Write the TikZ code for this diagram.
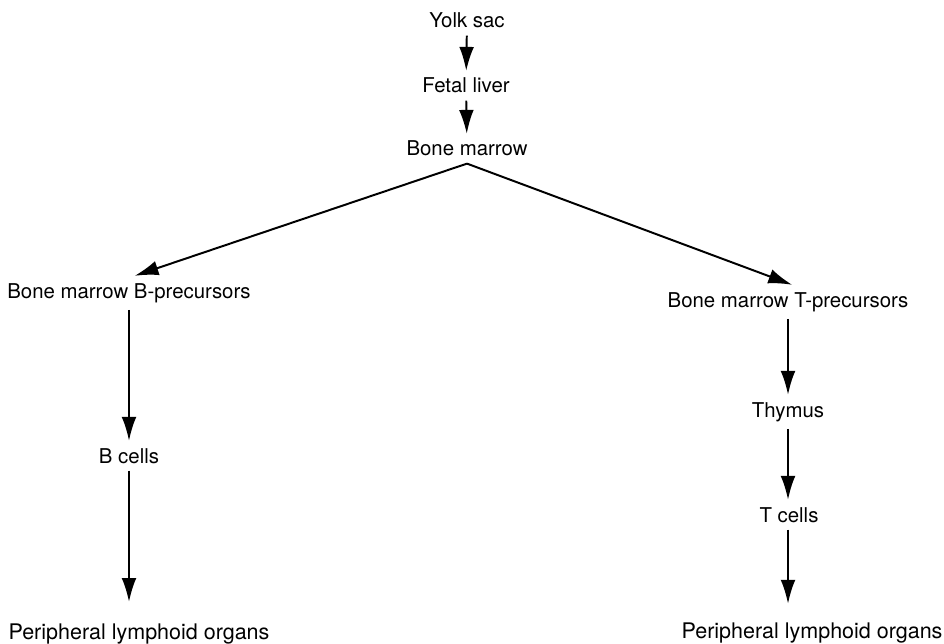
\documentclass[tikz,border=0pt]{standalone}
\usepackage{fontspec}
\setmainfont{TeX Gyre Heros}
\usetikzlibrary{arrows.meta, positioning}

\begin{document}
\begin{tikzpicture}[
  x=0.025cm, y=-0.025cm,
  lbl/.style={anchor=base, inner sep=5pt, font=\fontsize{14.5}{17}\selectfont},
  wide/.style={lbl, font=\fontsize{15.3}{18}\selectfont},
  arrow/.style={-{Latex[length=17pt, width=10.5pt]}, line width=1.4pt}
]
\useasboundingbox (0,0) rectangle (944,643);
\node[lbl] (yolk) at (467,28) {Yolk sac};
\node[lbl] (liver) at (466,93) {Fetal liver};
\node[lbl] (bm) at (467,156) {Bone marrow};
\node[lbl] (bmb) at (129,298) {Bone marrow B-precursors};
\node[lbl] (bmt) at (788,307) {Bone marrow T-precursors};
\node[lbl] (bcell) at (129,463) {B cells};
\node[lbl] (thym) at (788,417) {Thymus};
\node[lbl] (tcell) at (789,522) {T cells};
\node[wide] (plb) at (139,639) {Peripheral lymphoid organs};
\node[wide] (plt) at (812,638) {Peripheral lymphoid organs};
\draw[arrow] (yolk) -- (liver);
\draw[arrow] (liver) -- (bm);
\draw[arrow] (bm.south) -- ([xshift=4pt]bmb.north);
\draw[arrow] (bm.south) -- ([xshift=3pt]bmt.north);
\draw[arrow] (bmb.south -| bcell) -- (bcell.north);
\draw[arrow, shorten >=10pt] (bcell.south) -- (plb.north -| bcell);
\draw[arrow] (bmt.south -| thym) -- (thym.north);
\draw[arrow] (thym.south) -- (tcell.north -| thym);
\draw[arrow, shorten >=8pt] (tcell.south -| thym) -- (plt.north -| thym);
\end{tikzpicture}
\end{document}
